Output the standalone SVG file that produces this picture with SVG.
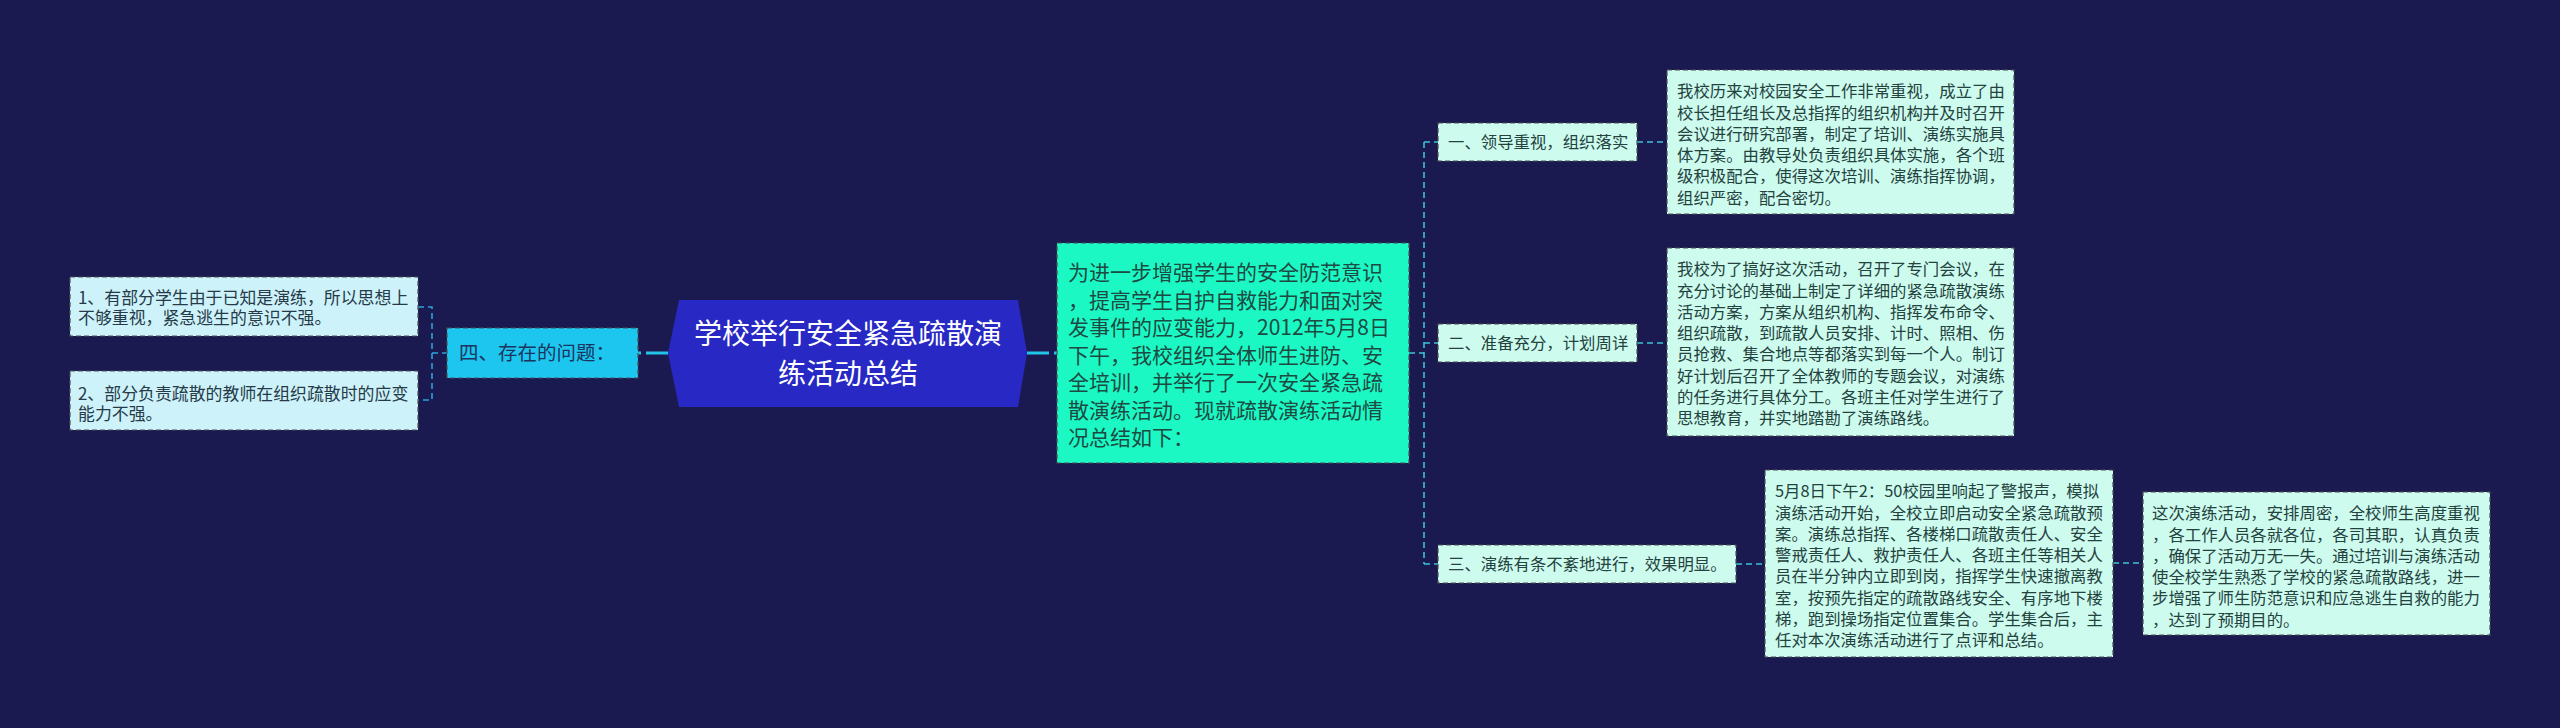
<svg xmlns="http://www.w3.org/2000/svg" width="2560" height="728" viewBox="0 0 2560 728">
<style>
text{font-family:"Noto Sans CJK SC","Noto Sans",sans-serif;}
.box{stroke:#4a5055;stroke-width:1.2;stroke-dasharray:5 3;}
.leafL{fill:#cdf2fa;}
.leafR{fill:#cdfbee;}
.t16{font-size:16.4px;fill:#24423e;}
.t17{font-size:16.9px;fill:#263a48;}
.lnk{fill:none;stroke:#3cc2d4;stroke-width:1.6;stroke-dasharray:6 4;}
.lnkL{fill:none;stroke:#2aa2d8;stroke-width:1.6;stroke-dasharray:6 4;}
.lnkMain{fill:none;stroke:#22c4e8;stroke-width:3;stroke-dasharray:22 5;}
</style>
<rect x="0" y="0" width="2560" height="728" fill="#1a1a50"/>

<g id="connectors">
<path class="lnkL" d="M418,307 H432 V400 H418 M432,353 H447"/>
<path class="lnkMain" d="M668,353 H638"/>
<path class="lnkMain" d="M1027,353 H1057"/>
<path class="lnk" d="M1409,353 H1424 M1424,142 V564 M1424,142 H1438 M1424,343 H1438 M1424,564 H1438"/>
<path class="lnk" d="M1637,142 H1667"/>
<path class="lnk" d="M1637,343 H1667"/>
<path class="lnk" d="M1736,564 H1765"/>
<path class="lnk" d="M2113,563 H2143"/>
</g>

<g id="root">
<polygon points="668,353 679,300 1018,300 1027,353 1018,407 679,407" fill="#2828c4"/>
<text x="848" y="343.6" font-size="28" fill="#ffffff" text-anchor="middle">学校举行安全紧急疏散演</text>
<text x="848" y="383.6" font-size="28" fill="#ffffff" text-anchor="middle">练活动总结</text>
</g>

<g id="intro">
<rect class="box" x="1057" y="243" width="352" height="220" fill="#1cf8c4"/>
<g font-size="21" fill="#1d4a42">
<text x="1068" y="280">为进一步增强学生的安全防范意识</text>
<text x="1068" y="307.5">，提高学生自护自救能力和面对突</text>
<text x="1068" y="335">发事件的应变能力，2012年5月8日</text>
<text x="1068" y="362.5">下午，我校组织全体师生进防、安</text>
<text x="1068" y="390">全培训，并举行了一次安全紧急疏</text>
<text x="1068" y="417.5">散演练活动。现就疏散演练活动情</text>
<text x="1068" y="445">况总结如下：</text>
</g>
</g>

<g id="problems">
<rect class="box" x="447" y="328" width="191" height="50" fill="#1cc6ee"/>
<text x="459" y="360.4" font-size="19.5" fill="#1b3560">四、存在的问题：</text>
</g>

<g id="problem1">
<rect class="box leafL" x="70" y="277" width="348" height="59"/>
<text class="t17" x="78" y="303.6">1、有部分学生由于已知是演练，所以思想上</text>
<text class="t17" x="78" y="324">不够重视，紧急逃生的意识不强。</text>
</g>

<g id="problem2">
<rect class="box leafL" x="70" y="371" width="348" height="59"/>
<text class="t17" x="78" y="399.6">2、部分负责疏散的教师在组织疏散时的应变</text>
<text class="t17" x="78" y="420">能力不强。</text>
</g>

<g id="sec1">
<rect class="box leafR" x="1438" y="123" width="199" height="38"/>
<text class="t16" x="1448" y="148.2">一、领导重视，组织落实</text>
</g>

<g id="sec1detail">
<rect class="box leafR" x="1667" y="70" width="347" height="144"/>
<text class="t16" x="1677" y="97.2">我校历来对校园安全工作非常重视，成立了由</text>
<text class="t16" x="1677" y="118.5">校长担任组长及总指挥的组织机构并及时召开</text>
<text class="t16" x="1677" y="139.8">会议进行研究部署，制定了培训、演练实施具</text>
<text class="t16" x="1677" y="161.1">体方案。由教导处负责组织具体实施，各个班</text>
<text class="t16" x="1677" y="182.4">级积极配合，使得这次培训、演练指挥协调，</text>
<text class="t16" x="1677" y="203.7">组织严密，配合密切。</text>
</g>

<g id="sec2">
<rect class="box leafR" x="1438" y="324" width="199" height="38"/>
<text class="t16" x="1448" y="349.2">二、准备充分，计划周详</text>
</g>

<g id="sec2detail">
<rect class="box leafR" x="1667" y="248" width="347" height="188"/>
<text class="t16" x="1677" y="275.2">我校为了搞好这次活动，召开了专门会议，在</text>
<text class="t16" x="1677" y="296.5">充分讨论的基础上制定了详细的紧急疏散演练</text>
<text class="t16" x="1677" y="317.8">活动方案，方案从组织机构、指挥发布命令、</text>
<text class="t16" x="1677" y="339.1">组织疏散，到疏散人员安排、计时、照相、伤</text>
<text class="t16" x="1677" y="360.4">员抢救、集合地点等都落实到每一个人。制订</text>
<text class="t16" x="1677" y="381.7">好计划后召开了全体教师的专题会议，对演练</text>
<text class="t16" x="1677" y="403">的任务进行具体分工。各班主任对学生进行了</text>
<text class="t16" x="1677" y="424.3">思想教育，并实地踏勘了演练路线。</text>
</g>

<g id="sec3">
<rect class="box leafR" x="1438" y="545" width="298" height="38"/>
<text class="t16" x="1448" y="570.2">三、演练有条不紊地进行，效果明显。</text>
</g>

<g id="sec3detail">
<rect class="box leafR" x="1765" y="470" width="348" height="187"/>
<text class="t16" x="1775" y="497.2">5月8日下午2：50校园里响起了警报声，模拟</text>
<text class="t16" x="1775" y="518.5">演练活动开始，全校立即启动安全紧急疏散预</text>
<text class="t16" x="1775" y="539.8">案。演练总指挥、各楼梯口疏散责任人、安全</text>
<text class="t16" x="1775" y="561.1">警戒责任人、救护责任人、各班主任等相关人</text>
<text class="t16" x="1775" y="582.4">员在半分钟内立即到岗，指挥学生快速撤离教</text>
<text class="t16" x="1775" y="603.7">室，按预先指定的疏散路线安全、有序地下楼</text>
<text class="t16" x="1775" y="625">梯，跑到操场指定位置集合。学生集合后，主</text>
<text class="t16" x="1775" y="646.3">任对本次演练活动进行了点评和总结。</text>
</g>

<g id="sec3summary">
<rect class="box leafR" x="2143" y="492" width="347" height="143"/>
<text class="t16" x="2152" y="519.2">这次演练活动，安排周密，全校师生高度重视</text>
<text class="t16" x="2152" y="540.5">，各工作人员各就各位，各司其职，认真负责</text>
<text class="t16" x="2152" y="561.8">，确保了活动万无一失。通过培训与演练活动</text>
<text class="t16" x="2152" y="583.1">使全校学生熟悉了学校的紧急疏散路线，进一</text>
<text class="t16" x="2152" y="604.4">步增强了师生防范意识和应急逃生自救的能力</text>
<text class="t16" x="2152" y="625.7">，达到了预期目的。</text>
</g>
</svg>
